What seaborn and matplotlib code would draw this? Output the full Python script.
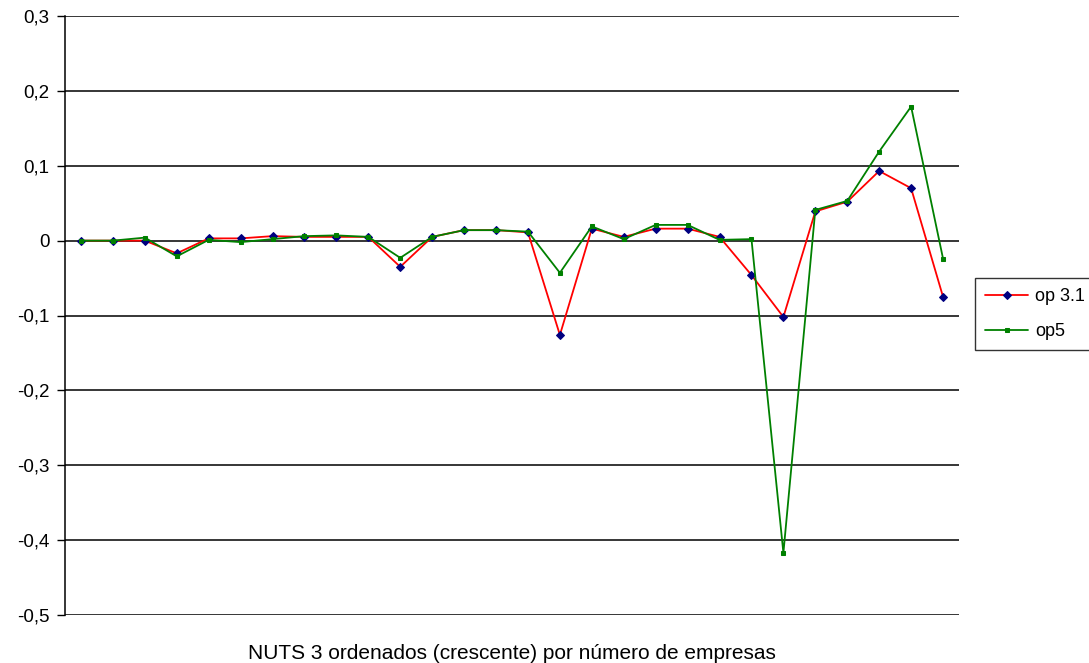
import numpy as np
import pandas as pd
import matplotlib
matplotlib.use("Agg")
import matplotlib.pyplot as plt
import seaborn as sns

# Differences per NUTS 3 region (ordered by number of firms, ascending)
op31 = [0.000, 0.000, 0.000, -0.017, 0.003, 0.003, 0.006, 0.005, 0.005, 0.005,
        -0.035, 0.005, 0.014, 0.014, 0.011, -0.126, 0.016, 0.005, 0.016, 0.016,
        0.005, -0.046, -0.102, 0.039, 0.052, 0.093, 0.070, -0.075]
op5 = [0.000, 0.000, 0.004, -0.021, 0.001, -0.002, 0.002, 0.006, 0.007, 0.005,
       -0.023, 0.005, 0.014, 0.014, 0.012, -0.043, 0.019, 0.002, 0.021, 0.021,
       0.001, 0.002, -0.417, 0.041, 0.053, 0.119, 0.179, -0.024]
series_names = ["op 3.1", "op5"]
y_ticks = [0.3, 0.2, 0.1, 0.0, -0.1, -0.2, -0.3, -0.4, -0.5]
x_label = "NUTS 3 ordenados (crescente) por número de empresas"

sns.set_style("white")
plt.rcParams["font.family"] = ["Liberation Sans", "DejaVu Sans"]
plt.rcParams["text.color"] = "black"
plt.rcParams["axes.labelcolor"] = "black"
plt.rcParams["ytick.labelcolor"] = "black"

n = len(op31)
df = pd.DataFrame({
    "pos": list(range(n)) * 2,
    "valor": op31 + op5,
    "serie": [series_names[0]] * n + [series_names[1]] * n,
})

fig = plt.figure(figsize=(10.89, 6.63), dpi=100)
ax = fig.add_axes([65 / 1089, 1 - 615 / 663, (959 - 65) / 1089, (615 - 16) / 663])

for yt in y_ticks:
    ax.axhline(yt, color="black", lw=1.1, zorder=1)

sns.lineplot(data=df[df.serie == series_names[0]], x="pos", y="valor", ax=ax,
             color="#ff0000", lw=1.3, marker="D", markersize=3.6,
             markerfacecolor="#000080", markeredgecolor="#000080",
             label=series_names[0], zorder=3)
sns.lineplot(data=df[df.serie == series_names[1]], x="pos", y="valor", ax=ax,
             color="#008000", lw=1.3, marker="s", markersize=2.3,
             markerfacecolor="#008000", markeredgecolor="#008000",
             label=series_names[1], zorder=4)

ax.set_xlim(-0.5, n - 0.5)
ax.set_ylim(-0.5, 0.3)
ax.set_yticks(y_ticks)
ax.set_yticklabels([f"{v:.1f}".replace(".", ",").replace("-0,0", "0").replace("0,0", "0")
                    for v in y_ticks], fontsize=13.5, color="black")
ax.set_xticks([])
ax.tick_params(axis="y", direction="out", length=6, width=1, color="black", pad=5, left=True)
for side in ["top", "right", "bottom"]:
    ax.spines[side].set_visible(False)
ax.spines["left"].set_color("black")
ax.spines["left"].set_linewidth(1.1)
ax.set_ylabel("")
ax.set_xlabel(x_label, fontsize=15, labelpad=21, color="black")

leg = ax.legend(loc="center left", bbox_to_anchor=((975 - 65) / 894, 0.502),
                frameon=True, fancybox=False, edgecolor="black", fontsize=13,
                handlelength=2.4, borderpad=0.55, labelspacing=1.0, handletextpad=0.4,
                borderaxespad=0)
leg.get_frame().set_linewidth(1.0)
for t in leg.get_texts():
    t.set_color("black")

fig.savefig("out.png", dpi=100)
